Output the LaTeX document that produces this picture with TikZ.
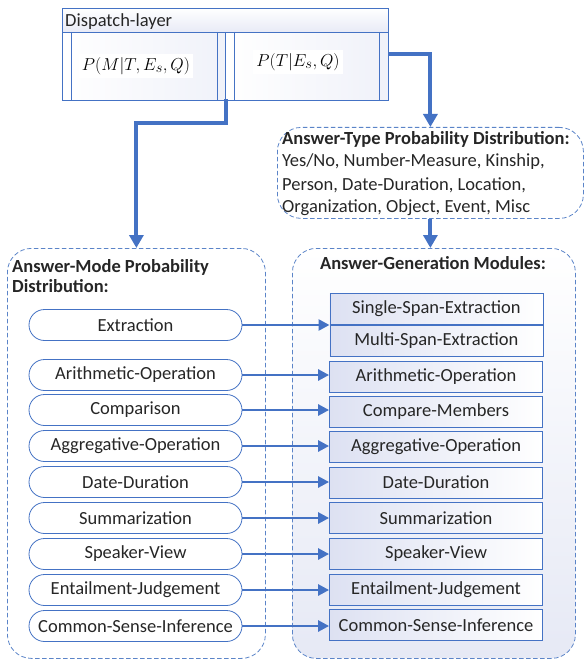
\documentclass[tikz,border=0pt]{standalone}
\usepackage{fontspec}
\setmainfont{Carlito}
\usetikzlibrary{arrows.meta,calc}
\definecolor{acc}{HTML}{4472C4}
\definecolor{dashc}{HTML}{5B84C8}
\definecolor{lav}{HTML}{DDE1F2}
\definecolor{lavbg}{HTML}{E6E9F5}
\definecolor{txt}{HTML}{262626}
\tikzset{
  txtfont/.style={font=\fontsize{18.5}{22}\selectfont, text=txt},
  dashbox/.style={draw=dashc, line width=0.8pt, dash pattern=on 4.5pt off 2.5pt, rounded corners=24pt},
  pill/.style={txtfont, draw=acc, line width=0.8pt, rounded corners=15.5pt, fill=white,
    minimum width=213pt, minimum height=31pt, inner sep=0pt},
  modbox/.style={txtfont, draw=acc, line width=0.8pt, left color=lav, right color=white,
    minimum width=213pt, minimum height=31pt, inner sep=0pt},
  flow/.style={draw=acc, line width=4pt, -{Triangle[length=13pt,width=14pt]}},
  hflow/.style={draw=acc, line width=2.6pt, -{Triangle[length=11pt,width=11pt]}},
  panel/.style={draw=acc, line width=0.7pt, left color=white, right color=lav!45},
}
\begin{document}
\begin{tikzpicture}[x=1pt,y=-1pt]
\useasboundingbox (0,0) rectangle (585,660);

% ---- dispatch layer ----
\node[draw=acc, line width=0.8pt, top color=white, bottom color=lav!70,
      minimum width=326pt, minimum height=24pt, anchor=north west, inner sep=0pt] (head) at (62,8) {};
\node[txtfont, anchor=base west, inner sep=0pt] (headtxt) at (65,27) {Dispatch-layer};
\node[panel, minimum width=163pt, minimum height=68pt, anchor=north west, inner sep=0pt] (lp) at (62,32) {};
\node[panel, minimum width=163pt, minimum height=68pt, anchor=north west, inner sep=0pt] (rp) at (225,32) {};
\draw[acc, line width=0.7pt] (71,32) -- (71,100) (217,32) -- (217,100)
                             (234,32) -- (234,100) (379,32) -- (379,100);
\node[fill=white, inner sep=3pt, font=\fontsize{19}{21}\selectfont] (pm) at (136,66) {$P(M|T,E_s,Q)$};
\node[fill=white, inner sep=3pt, font=\fontsize{19}{21}\selectfont] (pt) at (298,62) {$P(T|E_s,Q)$};
\coordinate (d1) at (226,99);
\coordinate (d2) at (388,54);

% ---- answer type distribution ----
\node[dashbox, minimum width=306pt, minimum height=91pt, anchor=north west] (type) at (277,127) {};
\node[txtfont, font=\fontsize{18.5}{22}\bfseries, anchor=base west, inner sep=0pt] (t0) at (282,145) {Answer-Type Probability Distribution:};
\node[txtfont, anchor=base west, inner sep=0pt] (t1) at (282,167) {Yes/No, Number-Measure, Kinship,};
\node[txtfont, anchor=base west, inner sep=0pt] (t2) at (282,190) {Person, Date-Duration, Location,};
\node[txtfont, anchor=base west, inner sep=0pt] (t3) at (282,212) {Organization, Object, Event, Misc};

% ---- answer mode distribution ----
\node[dashbox, minimum width=258pt, minimum height=410pt, anchor=north west] (mode) at (7,248) {};
\node[txtfont, font=\fontsize{18.5}{22}\bfseries, anchor=base west, inner sep=0pt] (m0) at (12,272) {Answer-Mode Probability};
\node[txtfont, font=\fontsize{18.5}{22}\bfseries, anchor=base west, inner sep=0pt] (m1) at (12,292) {Distribution:};

% ---- answer generation modules ----
\node[dashbox, shading angle=45, top color=white, bottom color=lavbg,
      minimum width=283pt, minimum height=410pt, anchor=north west] (gen) at (292,248) {};
\node[txtfont, font=\fontsize{18.5}{22}\bfseries, anchor=base, inner sep=0pt] (g0) at (433,269) {Answer-Generation Modules:};

% mode pills
\foreach \n/\t/\y in {p1/Extraction/325, p2/Arithmetic-Operation/375, p3/Comparison/410,
    p4/Aggregative-Operation/446, p5/Date-Duration/482, p6/Summarization/518,
    p7/Speaker-View/554, p8/Entailment-Judgement/590, p9/Common-Sense-Inference/626}
  \node[pill] (\n) at (135.5,\y) {\t};

% generation modules
\node[modbox, anchor=south west] (q1a) at (329.5,325) {Single-Span-Extraction};
\node[modbox, anchor=north west] (q1b) at (329.5,325) {Multi-Span-Extraction};
\foreach \n/\t/\y in {q2/Arithmetic-Operation/376.5, q3/Compare-Members/411.5,
    q4/Aggregative-Operation/447, q5/Date-Duration/482.5, q6/Summarization/518,
    q7/Speaker-View/554, q8/Entailment-Judgement/589.5, q9/Common-Sense-Inference/625}
  \node[modbox] (\n) at (436,\y) {\t};

% ---- connectors ----
\draw[flow] (d1) -- (226,123) -| (mode.north);
\draw[flow] (d2) -| (type.north);
\draw[flow] (type.south) -- (type.south |- gen.north);

\draw[hflow] (p1.east) -- (p1.east -| q1a.west);
\foreach \i in {2,...,9}
  \draw[hflow] (p\i.east) -- (p\i.east -| q\i.west);
\end{tikzpicture}
\end{document}
